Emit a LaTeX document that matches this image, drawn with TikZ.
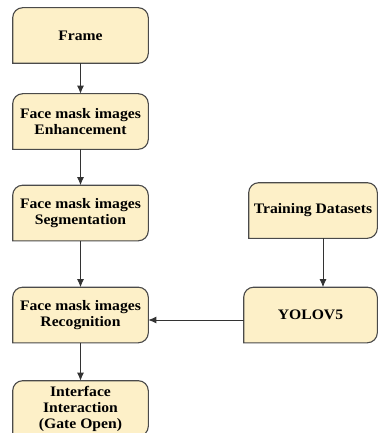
\documentclass[tikz,border=0pt]{standalone}
\usepackage{fontspec}
\setmainfont{Liberation Serif}[FakeStretch=1.08]
\usetikzlibrary{backgrounds,arrows.meta}
\definecolor{boxfill}{HTML}{FDF0C8}
\definecolor{boxdraw}{HTML}{4A4A4A}

\begin{document}
\begin{tikzpicture}[x=1pt,y=-1pt,>={Latex[length=8pt,width=7pt]},semithick,
    font=\bfseries\fontsize{14.5}{16}\selectfont,
    block/.style={align=center,inner sep=0pt,minimum width=135pt,minimum height=55pt},
    boxline/.style={fill=boxfill,draw=boxdraw,line width=1.1pt},
    link/.style={->,draw=black!80,line width=0.9pt}]
    \path[use as bounding box,clip] (0,0) rectangle (378,433);

    \node[block] (frame) at (80.5,35.5) {Frame};
    \node[block] (enh) at (80.5,121.5) {Face mask images\\Enhancement};
    \node[block] (seg) at (80.5,213) {Face mask images\\Segmentation};
    \node[block] (rec) at (80.5,315) {Face mask images\\Recognition};
    \node[block] (iface) at (80.5,408.5) {Interface\\Interaction\\(Gate Open)};

    \node[block,minimum width=128pt] (train) at (313,210.5) {Training Datasets};
    \node[block,minimum width=133pt] (yolo) at (310.5,315) {YOLOV5};

    \begin{pgfonlayer}{background}
    \foreach \b in {frame,enh,seg,rec,iface,train,yolo}
        \draw[boxline] (\b.south west) -- ([yshift=-10pt]\b.north west)
            arc[start angle=180,end angle=90,radius=10pt] -- ([xshift=-10pt]\b.north east)
            arc[start angle=90,end angle=0,radius=10pt] -- ([yshift=10pt]\b.south east)
            arc[start angle=0,end angle=-90,radius=10pt] -- cycle;
    \end{pgfonlayer}

    \draw[link] (frame) -- (enh);
    \draw[link] (enh) -- (seg);
    \draw[link] (seg) -- (rec);
    \draw[link] (rec) -- (iface);
    \draw[link] ([xshift=10pt]train.south) -- ([xshift=10pt]train.south |- yolo.north);
    \draw[link] ([yshift=-5pt]yolo.west) -- ([yshift=-5pt]rec.east);
\end{tikzpicture}
\end{document}
